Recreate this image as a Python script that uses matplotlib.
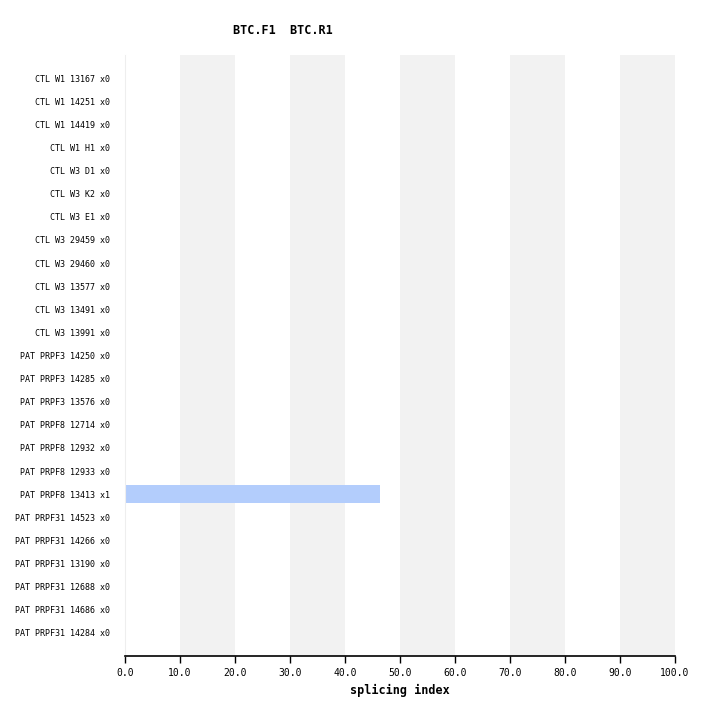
import matplotlib.pyplot as plt

labels = ["CTL W1 13167 x0", "CTL W1 14251 x0", "CTL W1 14419 x0", "CTL W1 H1 x0",
          "CTL W3 D1 x0", "CTL W3 K2 x0", "CTL W3 E1 x0", "CTL W3 29459 x0",
          "CTL W3 29460 x0", "CTL W3 13577 x0", "CTL W3 13491 x0", "CTL W3 13991 x0",
          "PAT PRPF3 14250 x0", "PAT PRPF3 14285 x0", "PAT PRPF3 13576 x0",
          "PAT PRPF8 12714 x0", "PAT PRPF8 12932 x0", "PAT PRPF8 12933 x0",
          "PAT PRPF8 13413 x1", "PAT PRPF31 14523 x0", "PAT PRPF31 14266 x0",
          "PAT PRPF31 13190 x0", "PAT PRPF31 12688 x0", "PAT PRPF31 14686 x0",
          "PAT PRPF31 14284 x0"]
values = [0]*18 + [46.3] + [0]*6
ticks = [0, 10, 20, 30, 40, 50, 60, 70, 80, 90, 100]

font = "DejaVu Sans Mono"
fig = plt.figure(figsize=(7.12, 7.16), dpi=100)
ax = fig.add_axes([125/712, 1-656/716, 550/712, 601/716])

for lo in range(10, 100, 20):
    ax.axvspan(lo, lo+10, color="#f2f2f2", lw=0, zorder=0)

ypos = list(range(len(labels)))
ax.barh(ypos, values, height=0.78, color="#b3cdfc", zorder=2)

ax.set_xlim(0, 100)
ax.set_ylim(len(labels), -1)
ax.set_xticks(ticks)
ax.set_xticklabels(["%.1f" % t for t in ticks], fontfamily=font, fontsize=7)
ax.set_yticks(ypos)
ax.set_yticklabels(labels, fontfamily=font, fontsize=6)
ax.tick_params(axis="y", length=0, pad=10.8)
ax.tick_params(axis="x", length=5, width=1, pad=4)
for s in ["top", "right"]:
    ax.spines[s].set_visible(False)
ax.spines["left"].set_color("#eeeeee")
ax.spines["bottom"].set_linewidth(1.2)
ax.set_xlabel("splicing index", fontfamily=font, fontsize=8.5, fontweight="bold", labelpad=4)

fig.text(283/712, 1-31/716, "BTC.F1  BTC.R1", fontfamily=font, fontsize=8.5,
         fontweight="bold", ha="center", va="center")

fig.savefig("out.png", dpi=100)
